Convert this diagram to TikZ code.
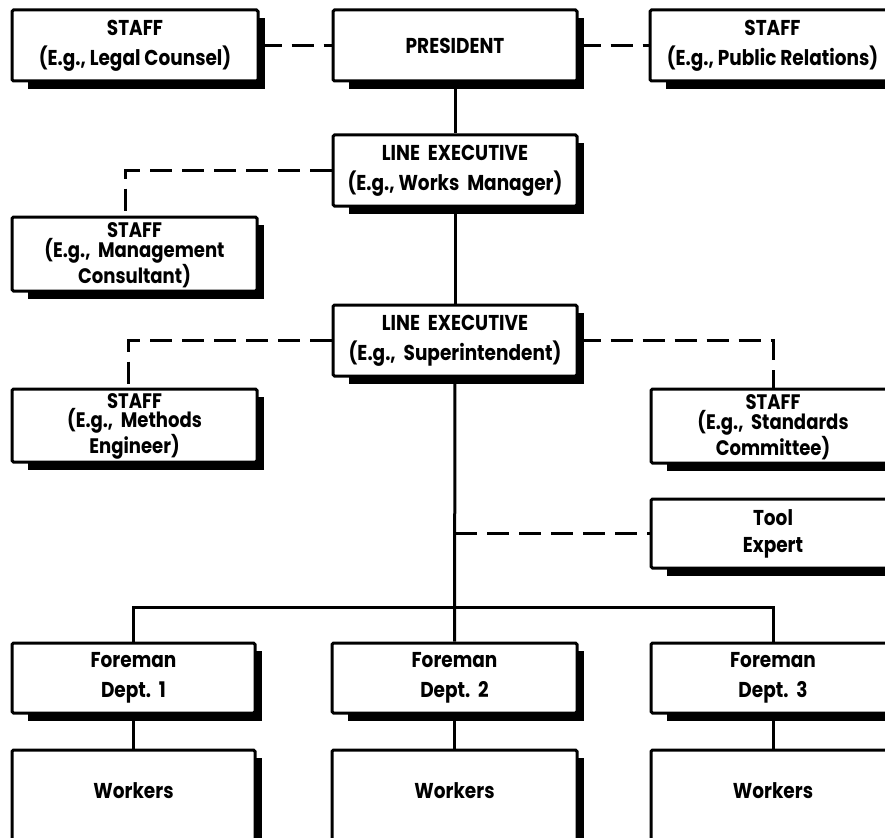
\documentclass[tikz,border=0pt]{standalone}
\usepackage{fontspec}
\setmainfont{Poppins}[FakeStretch=0.86]

% \orgnode[text options]{name}{left}{top}{right}{bottom}{text}
% draws a box with a heavy offset shadow on its lower right, then its text
\newcommand\orgnode[7][]{%
  \fill[black] ({#3+16},{#4+8}) rectangle ({#5+7},{#6+8});
  \node[orgbox,minimum width={(#5-#3)*1pt},minimum height={(#6-#4)*1pt}]
    (#2) at ({(#3+#5)/2},{(#4+#6)/2}) {};
  \node[orgtext,#1] at (#2.center) {#7};
}

\begin{document}
\begin{tikzpicture}[x=1pt,y=-1pt,
  orgbox/.style={draw=black,fill=white,line width=3pt,rounded corners=1.5pt,inner sep=0pt},
  orgtext/.style={align=center,inner sep=0pt,font=\bfseries\fontsize{21.5}{30}\selectfont},
  threeline/.style={font=\bfseries\fontsize{21}{19.5}\selectfont,yshift=-1pt},
  lineof/.style={line width=3pt},
  staffof/.style={line width=3pt,dash pattern=on 22pt off 10pt},
]
\useasboundingbox (0,0) rectangle (885,837);
\clip (0,0) rectangle (885,837);

% top row
\orgnode{legal}{12}{10}{258}{81}{STAFF\\(E.g., Legal Counsel)}
\orgnode{pres}{333}{10}{577}{81}{PRESIDENT}
\orgnode{pr}{650}{10}{895}{81}{STAFF\\(E.g., Public Relations)}

% line executives and their staff
\orgnode{le1}{333}{135}{577}{206}{LINE~ EXECUTIVE\\(E.g., Works~ Manager)}
\orgnode[threeline]{mgmt}{12}{217}{257}{291}{STAFF\\(E.g.,~ Management\\Consultant)}
\orgnode{le2}{333}{305}{577}{376}{LINE~ EXECUTIVE\\(E.g.,~ Superintendent)}
\orgnode[threeline]{methods}{12}{389}{257}{462}{STAFF\\(E.g.,~ Methods\\Engineer)}
\orgnode[threeline]{standards}{651}{389}{895}{463}{STAFF\\(E.g.,~ Standards\\Committee)}
\orgnode[font=\bfseries\fontsize{21.5}{27}\selectfont]{tool}{651}{499}{895}{568}{Tool\\Expert}

% foremen and workers
\orgnode{f1}{12}{643}{255}{713}{Foreman\\Dept.~~1}
\orgnode{f2}{332}{643}{577}{713}{Foreman\\Dept.~~2}
\orgnode{f3}{651}{643}{895}{713}{Foreman\\Dept.~~3}
\orgnode[yshift=9pt]{w1}{12}{750}{255}{850}{Workers}
\orgnode[yshift=9pt]{w2}{332}{750}{577}{850}{Workers}
\orgnode[yshift=9pt]{w3}{651}{750}{895}{850}{Workers}

% staff (dashed) relations
\draw[staffof] (legal.east) -- (pres.west);
\draw[staffof] (pres.east) -- (pr.west);
\draw[staffof] (le1.west) -| ([xshift=-9pt]mgmt.north);
\draw[staffof] (le2.west) -| ([xshift=-6pt]methods.north);
\draw[staffof] (le2.east) -| (standards.north);
\coordinate (tap) at (le2.south |- tool.west);
\draw[staffof] (tap) -- (tool.west);

% line (solid) relations
\draw[lineof] (pres.south) -- (le1.north);
\draw[lineof] (le1.south) -- (le2.north);
\draw[lineof] (le2.south) -- (f2.north);
\coordinate (bus) at (0,607);
\draw[lineof] (f1.north) -- (f1.north |- bus) -- (f3.north |- bus) -- (f3.north);
\draw[lineof] (f1.south) -- (w1.north);
\draw[lineof] (f2.south) -- (w2.north);
\draw[lineof] (f3.south) -- (w3.north);
\end{tikzpicture}
\end{document}
